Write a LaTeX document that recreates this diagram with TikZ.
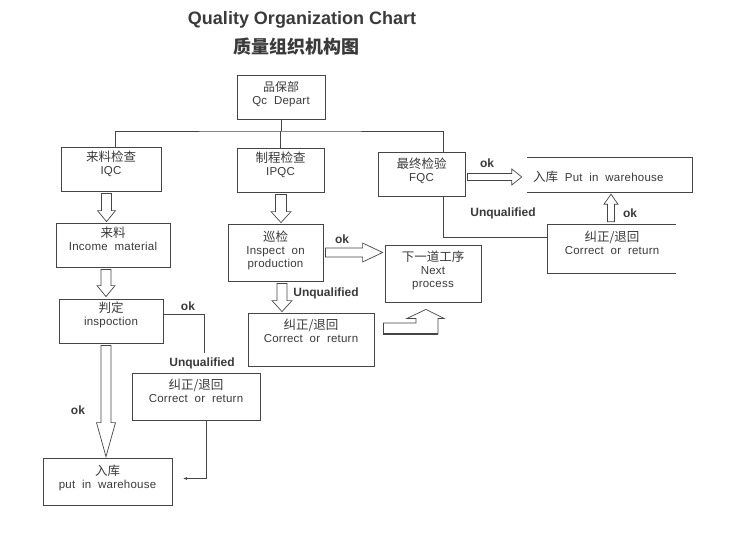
\documentclass[tikz,border=0pt]{standalone}
\usepackage{fontspec}
\setmainfont{Liberation Sans}[WordSpace=2,LetterSpace=2]
\newfontfamily\titlefont{Liberation Sans}
\newfontfamily\cjk{Noto Sans CJK SC}
\usetikzlibrary{positioning,calc,arrows.meta}
\definecolor{inkc}{HTML}{3A3A3A}
\definecolor{linec}{HTML}{454545}

\begin{document}
\begin{tikzpicture}[x=1pt,y=-1pt,
    box/.style={draw=linec,line width=.8pt,inner sep=0pt},
    txt/.style={align=center,inner sep=0pt,text=inkc,font=\fontsize{11.5}{13}\selectfont},
    tag/.style={inner sep=0pt,text=inkc,font=\titlefont\bfseries\fontsize{12}{14}\selectfont},
    wire/.style={draw=linec,line width=.8pt},
    fatdown/.style n args={3}{draw=linec,fill=white,line width=.7pt,to path={let \p1=(\tikztostart), \p2=(\tikztotarget) in
        (\x1-#1,\y1) -- (\x1-#1,\y2+#3) -- (\x1-#2,\y2+#3) -- (\x1,\y2) -- (\x1+#2,\y2+#3) -- (\x1+#1,\y2+#3) -- (\x1+#1,\y1) -- cycle}},
    fatup/.style n args={3}{draw=linec,fill=white,line width=.7pt,to path={let \p1=(\tikztostart), \p2=(\tikztotarget) in
        (\x1-#1,\y1) -- (\x1-#1,\y2-#3) -- (\x1-#2,\y2-#3) -- (\x1,\y2) -- (\x1+#2,\y2-#3) -- (\x1+#1,\y2-#3) -- (\x1+#1,\y1) -- cycle}},
    fatright/.style n args={3}{draw=linec,fill=white,line width=.7pt,to path={let \p1=(\tikztostart), \p2=(\tikztotarget) in
        (\x1,\y1+#1) -- (\x2-#3,\y1+#1) -- (\x2-#3,\y1+#2) -- (\x2,\y1) -- (\x2-#3,\y1-#2) -- (\x2-#3,\y1-#1) -- (\x1,\y1-#1) -- cycle}}]

    \useasboundingbox (0,0) rectangle (750,535);

    \node[font=\titlefont\bfseries\fontsize{18}{20}\selectfont,text=inkc] (title) at (302,20) {Quality Organization Chart};
    \node[font=\cjk\bfseries\fontsize{18}{20}\selectfont,text=inkc] (titlecn) at (296,47) {质量组织机构图};

    % boxes
    \node[box,minimum width=88pt,minimum height=44pt]  (qc)   at (281,97) {};
    \node[box,minimum width=100pt,minimum height=44pt] (iqc)  at (111,169) {};
    \node[box,minimum width=87pt,minimum height=44pt]  (ipqc) at (280.5,170) {};
    \node[box,minimum width=87pt,minimum height=44pt]  (fqc)  at (421.5,174) {};
    \node[box,minimum width=114pt,minimum height=44pt] (inc)  at (113,245) {};
    \node[box,minimum width=104pt,minimum height=44pt] (jd)   at (111,321) {};
    \node[box,minimum width=95pt,minimum height=57pt]  (xj)   at (275.5,252.5) {};
    \node[box,minimum width=96pt,minimum height=57pt]  (next) at (433,273.5) {};
    \node[box,minimum width=126pt,minimum height=53pt] (cm)   at (311,339.5) {};
    \node[box,minimum width=128pt,minimum height=47pt] (cl)   at (196,396.5) {};
    \node[box,minimum width=129pt,minimum height=47pt] (whb)  at (107.5,481.5) {};
    \node[inner sep=0pt,minimum width=165pt,minimum height=34pt] (whr) at (609.5,175) {};
    \node[inner sep=0pt,minimum width=128pt,minimum height=48pt] (cr)  at (612,249) {};
    \draw[wire] (whr.north west) -- (whr.north east) -- (whr.south east) -- (whr.south west);
    \draw[wire] (cr.north east) -- (cr.north west) -- (cr.south west) -- (cr.south east);

    % texts
    \node[txt,below=7pt of qc.north]   (qct)   {{\cjk\fontsize{12}{13}\selectfont 品保部}\\Qc Depart};
    \node[txt,below=4pt of iqc.north]  (iqct)  {{\cjk\fontsize{12.5}{13}\selectfont 来料检查}\\IQC};
    \node[txt,below=4pt of ipqc.north] (ipqct) {{\cjk\fontsize{12.5}{13}\selectfont 制程检查}\\IPQC};
    \node[txt,below=6pt of fqc.north]  (fqct)  {{\cjk\fontsize{12.5}{13}\selectfont 最终检验}\\FQC};
    \node[txt,below=4pt of inc.north]  (inct)  {{\cjk\fontsize{12.5}{13}\selectfont 来料}\\Income material};
    \node[txt,below=3pt of jd.north]   (jdt)   {{\cjk\fontsize{12.5}{13}\selectfont 判定}\\inspoction};
    \node[txt,below=7pt of xj.north]   (xjt)   {{\cjk\fontsize{12.5}{13}\selectfont 巡检}\\Inspect on\\production};
    \node[txt,below=6pt of next.north] (nextt) {{\cjk\fontsize{12.5}{13}\selectfont 下一道工序}\\Next\\process};
    \node[txt,below=6pt of cm.north]   (cmt)   {{\cjk\fontsize{12.5}{13}\selectfont 纠正/退回}\\Correct or return};
    \node[txt,below=6pt of cl.north]   (clt)   {{\cjk\fontsize{12.5}{13}\selectfont 纠正/退回}\\Correct or return};
    \node[txt,below=7pt of whb.north]  (whbt)  {{\cjk\fontsize{12.5}{13}\selectfont 入库}\\put in warehouse};
    \node[txt,below=6pt of cr.north]   (crt)   {{\cjk\fontsize{12.5}{13}\selectfont 纠正/退回}\\Correct or return};
    \node[txt,anchor=west] (whrt) at ([xshift=6pt,yshift=-2pt]whr.west) {{\cjk\fontsize{12.5}{13}\selectfont 入库}\ Put in warehouse};

    % tree lines
    \coordinate (bus) at (281,131);
    \draw[wire] (qc.south) -- (bus);
    \draw[wire] ([xshift=4pt]iqc.north) |- (bus) -| ([xshift=21.5pt]fqc.north);
    \draw[wire] (ipqc.north) -- (ipqc.north |- bus);

    % fat arrows
    \draw[fatdown={5pt}{9pt}{11pt}] ([xshift=-4.5pt,yshift=-2pt]iqc.south) to ([yshift=1pt]inc.north);
    \draw[fatdown={5pt}{9pt}{11pt}] ([xshift=-7pt,yshift=-2pt]inc.south) to ([yshift=2pt]jd.north);
    \draw[fatdown={5pt}{9.5pt}{34pt}] ([xshift=-5pt,yshift=-2pt]jd.south) to ([yshift=1pt]whb.north);
    \draw[fatdown={5.5pt}{10pt}{11pt}] ([xshift=.5pt,yshift=-2pt]ipqc.south) to ([yshift=1pt]xj.north);
    \draw[fatdown={5pt}{10pt}{11pt}] ([xshift=6.5pt,yshift=-2pt]xj.south) to ([yshift=1pt]cm.north);
    \draw[fatright={4.5pt}{9.5pt}{20pt}] ([xshift=2pt]xj.east) to ([xshift=-2pt]next.west);
    \draw[fatright={3.5pt}{8pt}{10pt}] ([xshift=2pt,yshift=-3pt]fqc.east) to ([xshift=-5pt]whr.west);
    \draw[fatup={3.5pt}{7pt}{10pt}] ([xshift=-1pt,yshift=3pt]cr.north) to ([yshift=-2pt]whr.south);
    \draw[draw=linec,fill=white,line width=.7pt]
        let \p1=([xshift=9pt,yshift=11pt]cm.east), \p2=([xshift=-7pt,yshift=-7pt]next.south) in
        (\x1,\y1+5.5pt) -- (\x2-10pt,\y1+5.5pt) -- (\x2-10pt,\y2-9pt) -- (\x2-19pt,\y2-9pt) -- (\x2,\y2)
        -- (\x2+18pt,\y2-9pt) -- (\x2+12pt,\y2-9pt) -- (\x2+12pt,\y1-5.5pt) -- (\x1,\y1-5.5pt) -- cycle;
    \draw[draw=linec,line width=1.6pt]
        let \p1=([xshift=9pt,yshift=11pt]cm.east), \p2=([xshift=-7pt,yshift=-7pt]next.south) in
        (\x1,\y1-5.5pt) -- (\x2+12pt,\y1-5.5pt);

    % plain lines
    \coordinate (jdend) at (204,353);
    \draw[wire] ([yshift=7pt]jd.east) -| (jdend);
    \draw[wire,-{Stealth[length=4pt,width=3pt]}] ([xshift=10pt]cl.south) |- ([xshift=11pt,yshift=3pt]whb.east);
    \draw[wire] ([xshift=21.5pt]fqc.south) |- ([yshift=12pt]cr.west);

    % labels
    \node[tag] (okjd)   at (188,306) {ok};
    \node[tag] (unjd)   at (202,363) {Unqualified};
    \node[tag] (okwh)   at (78,410)  {ok};
    \node[tag] (okxj)   at (342,239) {ok};
    \node[tag] (unxj)   at (326,293) {Unqualified};
    \node[tag] (okfqc)  at (487,163) {ok};
    \node[tag] (unfqc)  at (503,213) {Unqualified};
    \node[tag] (okcr)   at (630,213) {ok};
\end{tikzpicture}
\end{document}
